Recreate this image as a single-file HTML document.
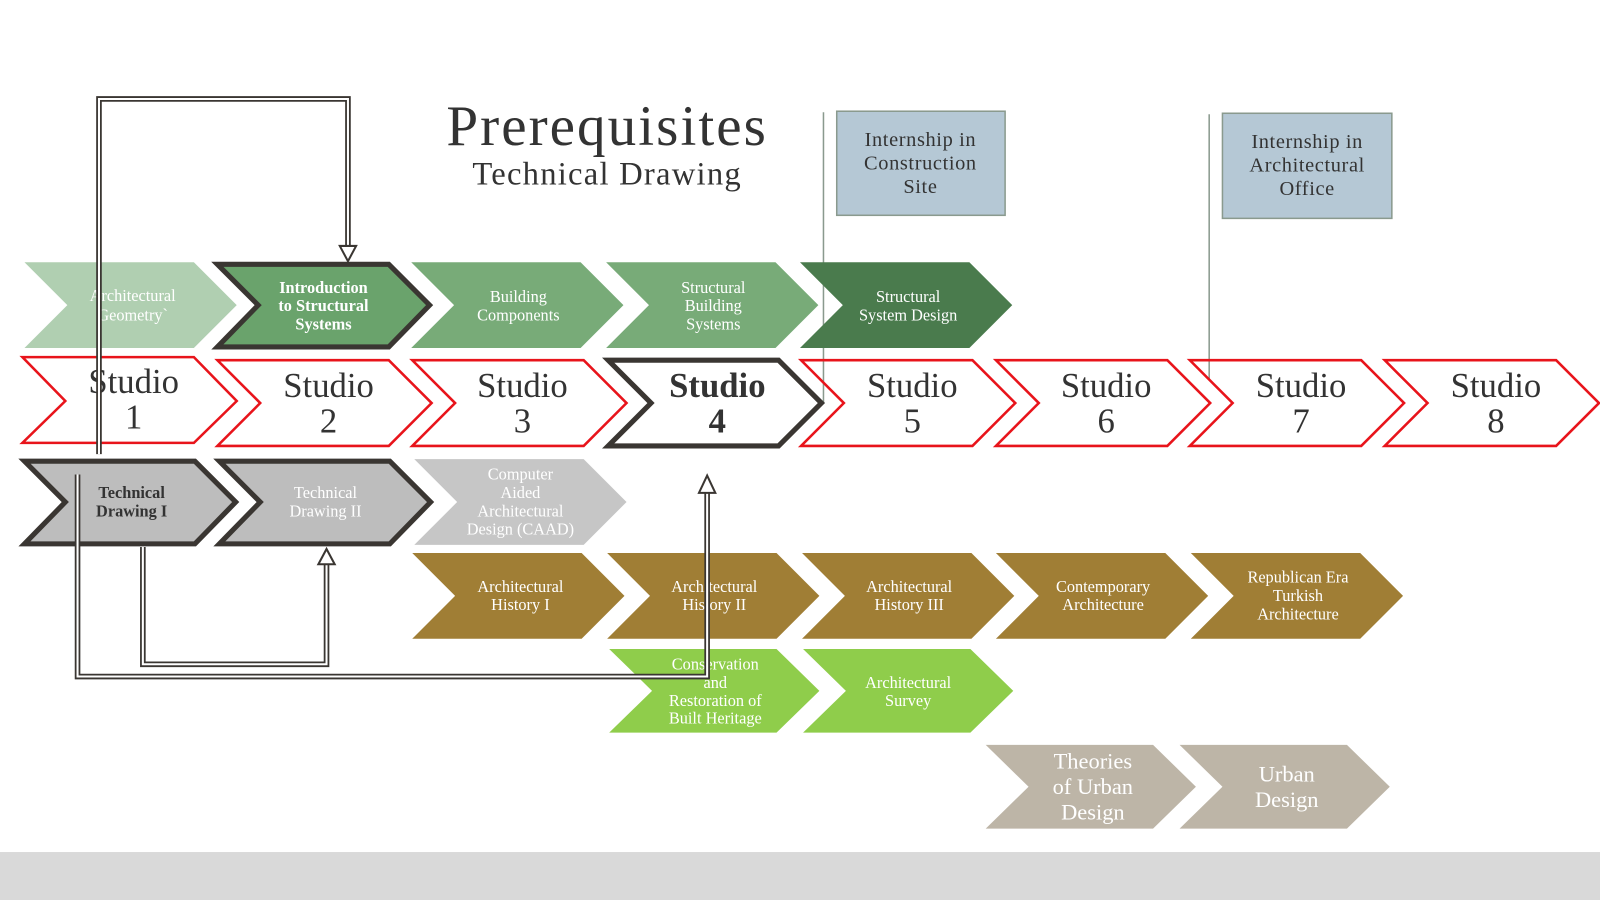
<!DOCTYPE html>
<html><head><meta charset="utf-8"><style>
html,body{margin:0;padding:0;background:#fff}
svg{display:block}
text{font-family:"Liberation Serif",serif;text-anchor:middle}
</style></head><body>
<svg width="1600" height="900" viewBox="0 0 1568 882" preserveAspectRatio="none" xmlns="http://www.w3.org/2000/svg">
<rect x="0" y="0" width="1568" height="882" fill="#fff"/>
<rect x="0" y="835" width="1568" height="47" fill="#d9d9d9"/>
<line x1="807" y1="110" x2="807" y2="395" stroke="#8a9a8e" stroke-width="1.5"/>
<line x1="1185" y1="112" x2="1185" y2="372" stroke="#8a9a8e" stroke-width="1.5"/>
<rect x="820" y="109" width="165" height="102" fill="#b5c8d5" stroke="#8a9a8e" stroke-width="1.5"/>
<rect x="1198" y="111" width="166" height="103" fill="#b5c8d5" stroke="#8a9a8e" stroke-width="1.5"/>
<g font-size="20" fill="#333" letter-spacing="0.6">
<text x="902" y="143">Internship  in</text><text x="902" y="166">Construction</text><text x="902" y="189">Site</text>
<text x="1281" y="145">Internship  in</text><text x="1281" y="168">Architectural</text><text x="1281" y="191">Office</text>
</g>
<text x="595" y="142" font-size="56" fill="#333" letter-spacing="2">Prerequisites</text>
<text x="595" y="181" font-size="32" fill="#333" letter-spacing="1.2">Technical Drawing</text>

<g>
<polygon points="24,257 190,257 232,299 190,341 24,341 66,299" fill="#b0cfb1"/>
<polygon points="213,259 381,259 421,299 381,340 213,340 253,299" fill="#6aa36c" stroke="#3a3632" stroke-width="5"/>
<polygon points="403,257 569,257 611,299 569,341 403,341 445,299" fill="#78ab78"/>
<polygon points="594,257 760,257 802,299 760,341 594,341 636,299" fill="#78ab78"/>
<polygon points="784,257 950,257 992,299 950,341 784,341 826,299" fill="#4a7b4d"/>
</g>
<g font-size="16" fill="#fff">
<text x="130" y="295">Architectural</text><text x="130" y="314">Geometry`</text>
<text x="317" y="287" font-weight="bold">Introduction</text><text x="317" y="305" font-weight="bold">to Structural</text><text x="317" y="323" font-weight="bold">Systems</text>
<text x="508" y="296">Building</text><text x="508" y="314">Components</text>
<text x="699" y="287">Structural</text><text x="699" y="305">Building</text><text x="699" y="323">Systems</text>
<text x="890" y="296">Structural</text><text x="890" y="314">System Design</text>
</g>

<g fill="none" stroke="#e8141b" stroke-width="2.5">
<polygon points="22,350 190,350 232,393 190,434 22,434 64,393"/>
<polygon points="213,353 381,353 423,395 381,437 213,437 255,395"/>
<polygon points="404,353 572,353 614,395 572,437 404,437 446,395"/>
<polygon points="785,353 953,353 995,395 953,437 785,437 827,395"/>
<polygon points="976,353 1144,353 1186,395 1144,437 976,437 1018,395"/>
<polygon points="1166,353 1334,353 1376,395 1334,437 1166,437 1208,395"/>
<polygon points="1357,353 1525,353 1567,395 1525,437 1357,437 1399,395"/>
</g>
<polygon points="596,353 763,353 805,395 763,437 596,437 638,395" fill="none" stroke="#3a3632" stroke-width="5"/>
<g font-size="34" fill="#333">
<text x="131" y="385">Studio</text><text x="131" y="420">1</text>
<text x="322" y="389">Studio</text><text x="322" y="424">2</text>
<text x="512" y="389">Studio</text><text x="512" y="424">3</text>
<text x="703" y="389" font-weight="bold">Studio</text><text x="703" y="424" font-weight="bold">4</text>
<text x="894" y="389">Studio</text><text x="894" y="424">5</text>
<text x="1084" y="389">Studio</text><text x="1084" y="424">6</text>
<text x="1275" y="389">Studio</text><text x="1275" y="424">7</text>
<text x="1466" y="389">Studio</text><text x="1466" y="424">8</text>
</g>

<polygon points="24,452 191,452 231,492 191,533 24,533 64,492" fill="#bdbdbd" stroke="#3a3632" stroke-width="5"/>
<polygon points="215,452 382,452 422,492 382,533 215,533 255,492" fill="#bdbdbd" stroke="#3a3632" stroke-width="5"/>
<polygon points="406,450 572,450 614,492 572,534 406,534 448,492" fill="#c6c6c6"/>
<g font-size="16">
<text x="129" y="488" fill="#333" font-weight="bold">Technical</text><text x="129" y="506" fill="#333" font-weight="bold">Drawing I</text>
<text x="319" y="488" fill="#fff">Technical</text><text x="319" y="506" fill="#fff">Drawing II</text>
<text x="510" y="470" fill="#fff">Computer</text><text x="510" y="488" fill="#fff">Aided</text><text x="510" y="506" fill="#fff">Architectural</text><text x="510" y="524" fill="#fff">Design (CAAD)</text>
</g>

<g fill="#a07e35">
<polygon points="404,542 570,542 612,584 570,626 404,626 446,584"/>
<polygon points="595,542 761,542 803,584 761,626 595,626 637,584"/>
<polygon points="786,542 952,542 994,584 952,626 786,626 828,584"/>
<polygon points="976,542 1142,542 1184,584 1142,626 976,626 1018,584"/>
<polygon points="1167,542 1333,542 1375,584 1333,626 1167,626 1209,584"/>
</g>
<g font-size="16" fill="#fff">
<text x="510" y="580">Architectural</text><text x="510" y="598">History I</text>
<text x="700" y="580">Architectural</text><text x="700" y="598">History II</text>
<text x="891" y="580">Architectural</text><text x="891" y="598">History III</text>
<text x="1081" y="580">Contemporary</text><text x="1081" y="598">Architecture</text>
<text x="1272" y="571">Republican Era</text><text x="1272" y="589">Turkish</text><text x="1272" y="607">Architecture</text>
</g>

<g fill="#8fcd4b">
<polygon points="597,636 761,636 803,677 761,718 597,718 639,677"/>
<polygon points="787,636 951,636 993,677 951,718 787,718 829,677"/>
</g>
<g font-size="16" fill="#fff">
<text x="701" y="656">Conservation</text><text x="701" y="674">and</text><text x="701" y="692">Restoration of</text><text x="701" y="709">Built Heritage</text>
<text x="890" y="674">Architectural</text><text x="890" y="692">Survey</text>
</g>

<g fill="#bdb5a7">
<polygon points="966,730 1130,730 1172,771 1130,812 966,812 1008,771"/>
<polygon points="1156,730 1320,730 1362,771 1320,812 1156,812 1198,771"/>
</g>
<g font-size="22" fill="#fff">
<text x="1071" y="753">Theories</text><text x="1071" y="778">of Urban</text><text x="1071" y="803">Design</text>
<text x="1261" y="766">Urban</text><text x="1261" y="791">Design</text>
</g>

<g fill="none" stroke-linejoin="miter">
<path d="M97,445 L97,97 L341,97 L341,243" stroke="#3a3632" stroke-width="5.5"/>
<path d="M97,445 L97,97 L341,97 L341,243" stroke="#fff" stroke-width="2"/>
<path d="M140,536 L140,651 L320,651 L320,552" stroke="#3a3632" stroke-width="5.5"/>
<path d="M140,536 L140,651 L320,651 L320,552" stroke="#fff" stroke-width="2"/>
<path d="M76,465 L76,663 L693,663 L693,482" stroke="#3a3632" stroke-width="5.5"/>
<path d="M76,465 L76,663 L693,663 L693,482" stroke="#fff" stroke-width="2"/>
</g>
<g fill="#fff" stroke="#3a3632" stroke-width="2">
<polygon points="333,241 349,241 341,256"/>
<polygon points="312,553 328,553 320,538"/>
<polygon points="685,483 701,483 693,466"/>
</g>
</svg>
</body></html>
